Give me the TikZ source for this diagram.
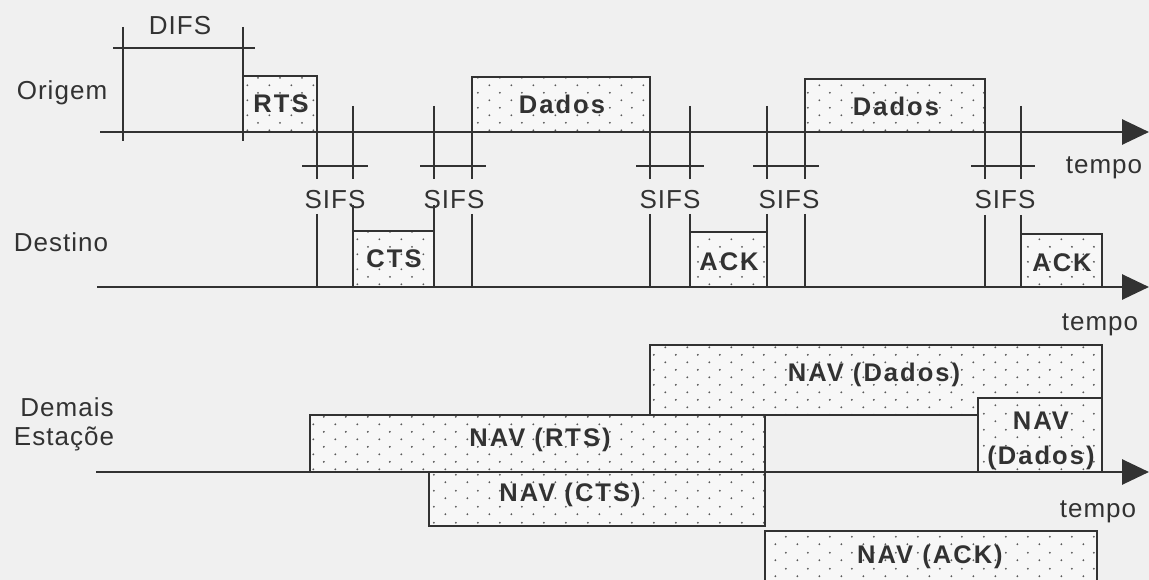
\documentclass[tikz,border=0pt]{standalone}
\usepackage{fontspec}
\setmainfont{Liberation Sans}
\newfontfamily\lblfont[LetterSpace=4]{Liberation Sans}
\newfontfamily\pktfont[LetterSpace=8]{Liberation Sans}
\usetikzlibrary{arrows.meta,patterns.meta}
\definecolor{bg}{RGB}{240,240,240}
\definecolor{ink}{RGB}{50,50,50}
\definecolor{boxbg}{RGB}{247,247,247}
\definecolor{dotc}{RGB}{90,90,90}
\tikzdeclarepattern{
  name=navdots,
  type=uncolored,
  bottom left={(0pt,0pt)},
  top right={(22pt,15.4pt)},
  tile size={(22pt,15.4pt)},
  code={
    \fill (5.5pt,3.85pt) circle (1.05pt);
    \fill (16.5pt,11.55pt) circle (1.05pt);
  }
}
\tikzset{
  lbl/.style={font=\lblfont\fontsize{26}{28}\selectfont, text=ink, inner sep=0pt, anchor=base},
  pkttxt/.style={font=\pktfont\bfseries\fontsize{25.5}{28}\selectfont, text=ink, inner sep=0pt, anchor=base},
  pkt/.style={draw=ink, line width=1.4pt, preaction={fill=boxbg}, pattern=navdots, pattern color=dotc},
  axisline/.style={draw=ink, line width=2.8pt, -{Triangle[length=27pt,width=25pt]}},
  tickline/.style={draw=ink, line width=1.2pt},
}
\begin{document}
\begin{tikzpicture}[x=1pt,y=-1pt]
\fill[bg] (0,0) rectangle (1149,580);
\useasboundingbox (0,0) rectangle (1149,580);

% ---------- packets ----------
% Origem
\draw[pkt] (243,76) rectangle (317,132);
\draw[pkt] (472,77) rectangle (650,132);
\draw[pkt] (805,79) rectangle (985,132);
% Destino
\draw[pkt] (353,231) rectangle (434,287);
\draw[pkt] (690,232) rectangle (767,287);
\draw[pkt] (1021,234) rectangle (1102,287);
% Demais
\draw[pkt] (650,345) -- (1102,345) -- (1102,398) -- (978,398) -- (978,415) -- (650,415) -- cycle;
\draw[pkt] (978,398) rectangle (1102,472);
\draw[pkt] (310,415) rectangle (765,472);
\draw[pkt] (429,472) rectangle (765,526);
\draw[pkt] (765,531) rectangle (1097,600);

% ---------- axes ----------
\coordinate (o0) at (100,132);  \coordinate (o1) at (1149,132);
\coordinate (d0) at (97,287);   \coordinate (d1) at (1149,287);
\coordinate (e0) at (96,472);   \coordinate (e1) at (1149,472);
\draw[axisline] (o0) -- (o1);
\draw[axisline] (d0) -- (d1);
\draw[axisline] (e0) -- (e1);

% ---------- DIFS ----------
\draw[tickline] (123,27) -- (123,141);
\draw[tickline] (243,27) -- (243,141);
\draw[tickline] (113,48) -- (255,48);

% ---------- SIFS marks (Origem) ----------
\draw[tickline] (317,132) -- (317,179);
\draw[tickline] (353,106) -- (353,179);
\draw[tickline] (302,166) -- (368,166);
\draw[tickline] (434,106) -- (434,179);
\draw[tickline] (472,132) -- (472,179);
\draw[tickline] (420,166) -- (486,166);
\draw[tickline] (650,132) -- (650,179);
\draw[tickline] (690,106) -- (690,179);
\draw[tickline] (636,166) -- (704,166);
\draw[tickline] (767,106) -- (767,179);
\draw[tickline] (805,132) -- (805,179);
\draw[tickline] (753,166) -- (819,166);
\draw[tickline] (985,132) -- (985,179);
\draw[tickline] (1021,106) -- (1021,179);
\draw[tickline] (971,166) -- (1035,166);

% ---------- SIFS marks (Destino) ----------
\draw[tickline] (317,214) -- (317,287);
\draw[tickline] (353,205) -- (353,287);
\draw[tickline] (434,205) -- (434,287);
\draw[tickline] (472,214) -- (472,287);
\draw[tickline] (650,214) -- (650,287);
\draw[tickline] (690,214) -- (690,287);
\draw[tickline] (767,214) -- (767,287);
\draw[tickline] (805,214) -- (805,287);
\draw[tickline] (985,215) -- (985,287);
\draw[tickline] (1021,215) -- (1021,287);

% ---------- labels ----------
\node[lbl] (difs) at (180,35) {DIFS};
\node[lbl] (origem) at (62,100) {Origem};
\node[lbl] (destino) at (61,252) {Destino};
\node[lbl] (demais) at (67,416) {Demais};
\node[lbl] (estacoe) at (64,445) {Estaçõe};
\node[lbl] (s1) at (335,209) {SIFS};
\node[lbl] (s2) at (454,209) {SIFS};
\node[lbl] (s3) at (670,209) {SIFS};
\node[lbl] (s4) at (789,209) {SIFS};
\node[lbl] (s5) at (1005,209) {SIFS};
\node[lbl] (t1) at (1104,174) {tempo};
\node[lbl] (t2) at (1100,330) {tempo};
\node[lbl] (t3) at (1098,517) {tempo};

\node[pkttxt] (rts) at (281,113) {RTS};
\node[pkttxt] (dados1) at (562,114) {Dados};
\node[pkttxt] (dados2) at (896,116) {Dados};
\node[pkttxt] (cts) at (394,268) {CTS};
\node[pkttxt] (ack1) at (729,270) {ACK};
\node[pkttxt] (ack2) at (1062,272) {ACK};
\node[pkttxt] (navd) at (874,381) {NAV (Dados)};
\node[pkttxt] (navr) at (540,446) {NAV (RTS)};
\node[pkttxt] (navc) at (570,501) {NAV (CTS)};
\node[pkttxt] (nava) at (930,563) {NAV (ACK)};
\node[pkttxt] (navs1) at (1041,429) {NAV};
\node[pkttxt] (navs2) at (1041,464) {(Dados)};
\end{tikzpicture}
\end{document}
